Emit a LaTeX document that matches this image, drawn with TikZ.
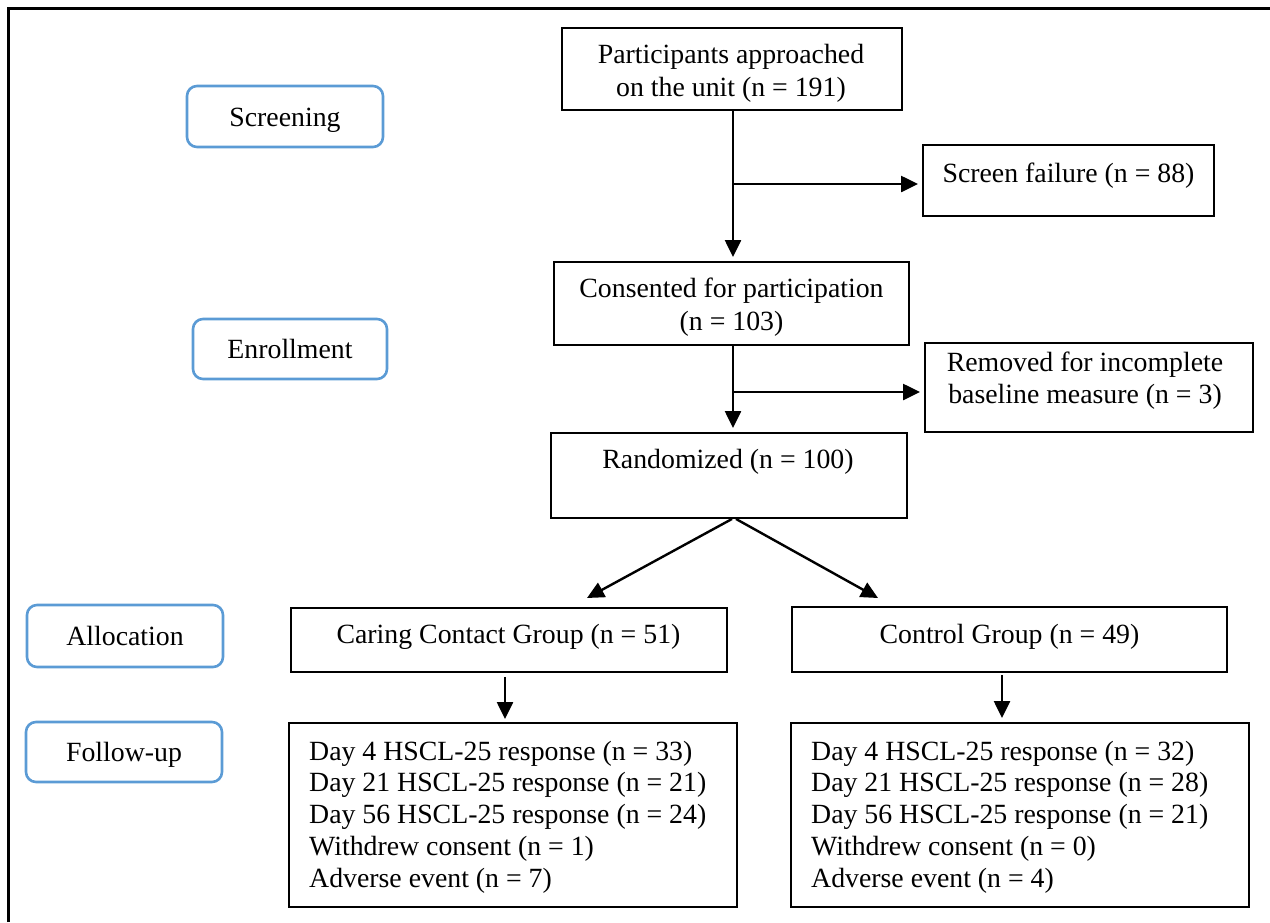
\documentclass[tikz,border=0pt]{standalone}
\usepackage{fontspec}
\setmainfont{Liberation Serif}
\usetikzlibrary{arrows.meta}
\definecolor{stageblue}{RGB}{91,155,213}
\begin{document}
\begin{tikzpicture}[x=1pt,y=-1pt,
  box/.style={draw,line width=1.9pt,rectangle,inner sep=0pt},
  stage/.style={draw=stageblue,line width=2.6pt,rounded corners=10pt,inner sep=0pt,text height=19pt,text depth=0pt,font=\fontsize{27.8}{33}\selectfont},
  ctext/.style={anchor=north,inner sep=0pt,align=center,font=\fontsize{27.8}{33}\selectfont},
  ltext/.style={anchor=north west,inner sep=0pt,align=left,font=\fontsize{27.8}{31.7}\selectfont},
  arr/.style={line width=2.4pt,-{Triangle[length=17pt,width=16pt]}}]
\useasboundingbox (0,0) rectangle (1270,922);
% outer frame
\draw[line width=3pt] (8.5,922) -- (8.5,8.5) -- (1270,8.5);

% stage labels
\node[stage,minimum width=196pt,minimum height=61pt] (scr) at (285,116.5) {Screening};
\node[stage,minimum width=194pt,minimum height=60pt] (enr) at (290,349) {Enrollment};
\node[stage,minimum width=196pt,minimum height=62pt] (alc) at (125,636) {Allocation};
\node[stage,minimum width=196pt,minimum height=60pt] (fup) at (124,752) {Follow-up};

% boxes
\node[box,minimum width=340pt,minimum height=82pt] (pa) at (732,69) {};
\node[ctext] (pat) at (731,39.9) {\strut Participants approached\\on the unit (n = 191)};

\node[box,minimum width=291pt,minimum height=71pt] (sf) at (1068.5,180.5) {};
\node[ctext] (sft) at (1068.5,158.9) {\strut Screen failure (n = 88)};

\node[box,minimum width=355pt,minimum height=83pt] (ca) at (731.5,303.5) {};
\node[ctext] (cat) at (731.5,273.9) {\strut Consented for participation\\(n = 103)};

\node[box,minimum width=328pt,minimum height=89pt] (rm) at (1089,387.5) {};
\node[ctext,font=\fontsize{27.8}{31.5}\selectfont] (rmt) at (1085,349.5) {\strut Removed for incomplete\\baseline measure (n = 3)};

\node[box,minimum width=356pt,minimum height=85pt] (rd) at (729,475.5) {};
\node[ctext] (rdt) at (728,444.9) {\strut Randomized (n = 100)};

\node[box,minimum width=436pt,minimum height=64pt] (cg) at (509,640) {};
\node[ctext] (cgt) at (508.5,619.9) {\strut Caring Contact Group (n = 51)};

\node[box,minimum width=435pt,minimum height=65pt] (ct) at (1009.5,639.5) {};
\node[ctext] (ctt) at (1009.5,619.9) {\strut Control Group (n = 49)};

\node[box,minimum width=448pt,minimum height=184pt] (f1) at (513,815) {};
\node[ltext] (f1t) at (309,737.8) {\strut Day 4 HSCL-25 response (n = 33)\\Day 21 HSCL-25 response (n = 21)\\Day 56 HSCL-25 response (n = 24)\\Withdrew consent (n = 1)\\Adverse event (n = 7)};

\node[box,minimum width=458pt,minimum height=184pt] (f2) at (1020,815) {};
\node[ltext] (f2t) at (811,737.8) {\strut Day 4 HSCL-25 response (n = 32)\\Day 21 HSCL-25 response (n = 28)\\Day 56 HSCL-25 response (n = 21)\\Withdrew consent (n = 0)\\Adverse event (n = 4)};

% connectors
\draw[arr,shorten >=4pt] ([xshift=1pt]pa.south) -- ([xshift=1pt]pa.south |- ca.north);
\coordinate (b1) at (733,184);
\draw[arr,shorten >=4pt] (b1) -- (b1 -| sf.west);
\draw[arr,shorten >=4pt] ([xshift=1.5pt]ca.south) -- ([xshift=1.5pt]ca.south |- rd.north);
\coordinate (b2) at (733,392);
\draw[arr,shorten >=4pt] (b2) -- (b2 -| rm.west);
\coordinate (ta) at (587,598);
\coordinate (tb) at (878,598);
\draw[arr] ([xshift=3pt]rd.south) -- (ta);
\draw[arr] ([xshift=7pt]rd.south) -- (tb);
\draw[arr,shorten <=4pt,shorten >=3pt] ([xshift=-4pt]cg.south) -- ([xshift=-4pt]cg.south |- f1.north);
\draw[arr,shorten <=2pt,shorten >=4pt] ([xshift=-7.5pt]ct.south) -- ([xshift=-7.5pt]ct.south |- f2.north);
\end{tikzpicture}
\end{document}
